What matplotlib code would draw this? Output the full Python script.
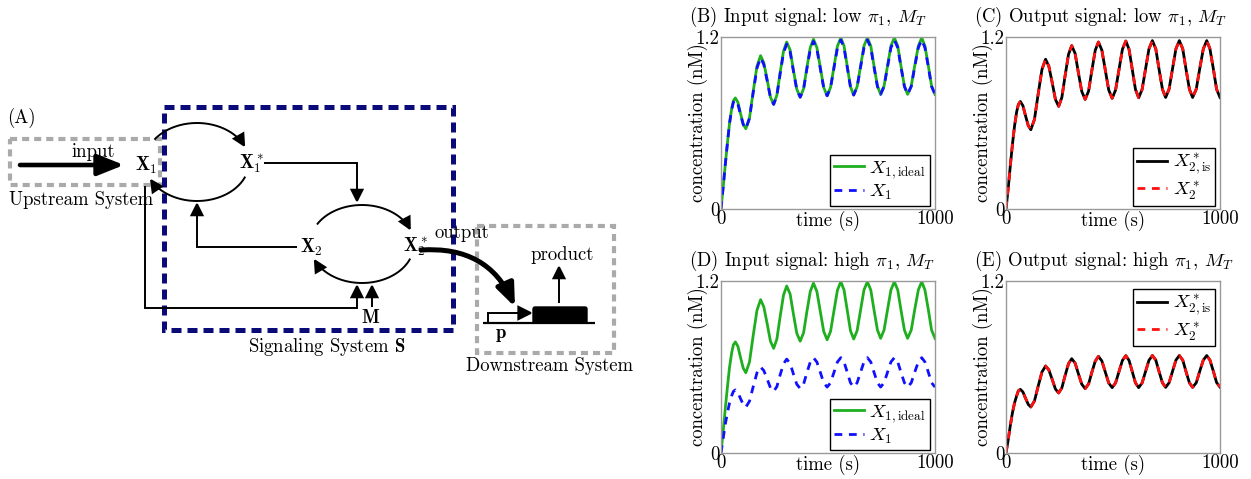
import numpy as np
import matplotlib
matplotlib.use("Agg")
import matplotlib.pyplot as plt
from matplotlib.patches import Rectangle, FancyArrowPatch, FancyBboxPatch
from matplotlib.path import Path

plt.rcParams["font.family"] = "cmr10"
plt.rcParams["mathtext.fontset"] = "cm"
plt.rcParams["axes.unicode_minus"] = False
plt.rcParams["axes.formatter.use_mathtext"] = True

# =========================
# DATA
# =========================

t = [0, 10, 20, 30, 40, 50, 58, 67,
     79, 91, 104, 116, 133, 150, 168, 185,
     200, 216, 231, 246, 261, 276, 292, 307,
     323, 338, 354, 370, 386, 401, 417, 432,
     448, 464, 480, 496, 512, 528, 544, 560,
     575, 590, 605, 620, 636, 652, 668, 684,
     700, 715, 731, 746, 762, 778, 794, 810,
     826, 841, 857, 872, 889, 905, 922, 938,
     953, 969, 984, 1000]

# X1,ideal (same in B and D)
x1_ideal = [0, .15, .31, .46, .60, .70, .755, .775,
            .744, .668, .591, .56, .634, .815, .995, 1.07,
            1.02, .90, .78, .73, .794, .948, 1.101, 1.165,
            1.109, .973, .836, .78, .839, .983, 1.126, 1.185,
            1.127, .988, .848, .79, .849, .993, 1.136, 1.195,
            1.137, .995, .853, .795, .853, .995, 1.137, 1.195,
            1.137, .998, .858, .80, .858, .998, 1.137, 1.195,
            1.137, .998, .858, .80, .858, .998, 1.137, 1.195,
            1.137, .998, .858, .80]

# X1, low pi1 / MT
x1_low = [0, .15, .31, .46, .60, .695, .745, .76,
          .731, .66, .589, .56, .632, .808, .983, 1.055,
          1.008, .893, .778, .73, .791, .94, 1.089, 1.15,
          1.096, .965, .834, .78, .837, .975, 1.113, 1.17,
          1.115, .98, .845, .79, .847, .985, 1.123, 1.18,
          1.124, .988, .851, .795, .851, .988, 1.124, 1.18,
          1.125, .99, .855, .80, .855, .99, 1.125, 1.18,
          1.125, .99, .855, .80, .855, .99, 1.125, 1.18,
          1.125, .99, .855, .80]

# X2*,is and X2*, low pi1 / MT (curves coincide)
x2is_low = [0, .14, .30, .45, .58, .68, .73, .75,
            .721, .652, .582, .553, .625, .799, .973, 1.045,
            .997, .881, .764, .716, .778, .928, 1.078, 1.14,
            1.085, .953, .82, .765, .823, .965, 1.107, 1.165,
            1.108, .969, .83, .772, .830, .972, 1.114, 1.172,
            1.114, .974, .834, .776, .834, .976, 1.117, 1.175,
            1.117, .977, .836, .778, .836, .977, 1.117, 1.175,
            1.117, .977, .836, .778, .836, .977, 1.117, 1.175,
            1.117, .977, .836, .778]
x2_low = list(x2is_low)

# X1, high pi1 / MT
x1_high = [0, .10, .20, .28, .35, .40, .43, .44,
           .422, .38, .338, .32, .361, .46, .559, .60,
           .575, .515, .455, .43, .463, .543, .622, .655,
           .625, .553, .48, .45, .481, .558, .634, .665,
           .635, .563, .49, .46, .49, .563, .635, .665,
           .635, .563, .49, .46, .49, .563, .635, .665,
           .635, .563, .49, .46, .49, .563, .635, .665,
           .635, .563, .49, .46, .49, .563, .635, .665,
           .635, .563, .49, .46]

# X2*,is and X2*, high pi1 / MT
x2is_high = [0, .09, .19, .28, .35, .40, .435, .444,
             .426, .383, .339, .321, .363, .464, .565, .607,
             .58, .513, .446, .419, .454, .539, .623, .658,
             .627, .554, .48, .449, .482, .562, .641, .674,
             .642, .565, .488, .456, .489, .568, .646, .679,
             .646, .568, .489, .456, .489, .568, .647, .68,
             .648, .569, .49, .458, .49, .569, .648, .68,
             .648, .569, .49, .458, .49, .569, .648, .68,
             .648, .57, .492, .46]
x2_high = list(x2is_high)

titles = [r"(B) Input signal: low $\pi_1$, $M_T$",
          r"(C) Output signal: low $\pi_1$, $M_T$",
          r"(D) Input signal: high $\pi_1$, $M_T$",
          r"(E) Output signal: high $\pi_1$, $M_T$"]

GREEN = "#1fae1f"
BLUE = "#1010ff"
RED = "#ff1010"
FS = 13.5

W, H = 1251, 479
fig = plt.figure(figsize=(W / 100, H / 100), dpi=100)

# =========================
# (A) SCHEMATIC
# =========================
axd = fig.add_axes([0, 0, 1, 1], zorder=0)
axd.set_xlim(0, W)
axd.set_ylim(H, 0)
axd.axis("off")

GRAY = "#aaaaaa"
NAVY = "#0a0a78"

def arc(cx, cy, rx, ry, a1, a2, n=40):
    th = np.radians(np.linspace(a1, a2, n))
    return np.column_stack([cx + rx * np.cos(th), cy - ry * np.sin(th)])

def arrow_path(pts, lw=1.4, ms=16, style="-|>,head_length=0.5,head_width=0.25"):
    p = FancyArrowPatch(path=Path(np.asarray(pts, float)), arrowstyle=style,
                        mutation_scale=ms, lw=lw, color="black",
                        shrinkA=0, shrinkB=0, joinstyle="miter", capstyle="butt")
    axd.add_patch(p)

# boxes
axd.add_patch(Rectangle((10, 139), 150, 46, fill=False, ec=GRAY, lw=3.0,
                        ls=(0, (1.7, 1.2))))
axd.add_patch(Rectangle((477, 226), 137, 127, fill=False, ec=GRAY, lw=3.0,
                        ls=(0, (1.7, 1.2))))
axd.add_patch(Rectangle((164, 107), 289, 223, fill=False, ec=NAVY, lw=3.6,
                        ls=(0, (2.0, 1.2))))

# cycles
arrow_path(arc(197, 162, 52, 39, 145, 22))
arrow_path(arc(197, 162, 52, 39, -22, -155))
arrow_path(arc(362, 244, 52, 39, 150, 20))
arrow_path(arc(362, 244, 52, 39, -22, -158))

# connecting arrows
arrow_path([(264, 163), (357, 163), (357, 203)])
arrow_path([(297, 247), (197, 247), (197, 202)])
arrow_path([(145, 186), (145, 308), (357, 308), (357, 284)])
arrow_path([(372, 307), (372, 284)])

# thick input / output arrows
axd.add_patch(FancyArrowPatch((20, 165), (124, 165),
                              arrowstyle="-|>,head_length=0.8,head_width=0.32",
                              mutation_scale=20, lw=3.3, color="black",
                              shrinkA=0, shrinkB=0))
axd.add_patch(FancyArrowPatch((421, 250), (515, 307),
                              connectionstyle="arc3,rad=-0.35",
                              arrowstyle="-|>,head_length=0.75,head_width=0.3",
                              mutation_scale=18, lw=3.6, color="black",
                              shrinkA=0, shrinkB=0))

# downstream gene
axd.plot([483, 595], [323, 323], color="black", lw=1.6, solid_capstyle="butt")
arrow_path([(488, 323), (488, 313), (533, 313)], lw=1.4, ms=18)
axd.add_patch(FancyBboxPatch((533, 307), 54, 16, boxstyle="round,pad=0,rounding_size=2",
                             fc="black", ec="black"))
arrow_path([(559, 303), (559, 265)])

# labels
axd.text(7, 118, "(A)", fontsize=FS, ha="left", va="center")
axd.text(93, 152, "input", fontsize=FS, ha="center", va="center")
axd.text(81, 200, "Upstream System", fontsize=FS, ha="center", va="center")
axd.text(146, 165, r"$\mathbf{X}_1$", fontsize=FS, ha="center", va="center")
axd.text(251, 164, r"$\mathbf{X}_1^*$", fontsize=FS, ha="center", va="center")
axd.text(311, 247, r"$\mathbf{X}_2$", fontsize=FS, ha="center", va="center")
axd.text(415, 247, r"$\mathbf{X}_2^*$", fontsize=FS, ha="center", va="center")
axd.text(371, 318, r"$\mathbf{M}$", fontsize=FS, ha="center", va="center")
axd.text(327, 347, r"Signaling System $\mathbf{S}$", fontsize=FS, ha="center", va="center")
axd.text(462, 233, "output", fontsize=FS, ha="center", va="center")
axd.text(562, 255, "product", fontsize=FS, ha="center", va="center")
axd.text(501, 335, r"$\mathbf{p}$", fontsize=FS, ha="center", va="center")
axd.text(549, 366, "Downstream System", fontsize=FS, ha="center", va="center")

# =========================
# (B)-(E) TIME COURSES
# =========================
lefts = [721, 1006]
tops = [37, 281]
aw, ah = 214, 172

panels = [
    (0, 0, x1_ideal, x1_low, GREEN, BLUE,
     r"$X_{1,\mathrm{ideal}}$", r"$X_1$", "lower right"),
    (1, 0, x2is_low, x2_low, "black", RED,
     r"$X^*_{2,\mathrm{is}}$", r"$X^*_2$", "lower right"),
    (0, 1, x1_ideal, x1_high, GREEN, BLUE,
     r"$X_{1,\mathrm{ideal}}$", r"$X_1$", "lower right"),
    (1, 1, x2is_high, x2_high, "black", RED,
     r"$X^*_{2,\mathrm{is}}$", r"$X^*_2$", "upper right"),
]

for k, (c, r, ya, yb, ca, cb, la, lb, loc) in enumerate(panels):
    ax = fig.add_axes([lefts[c] / W, (H - tops[r] - ah) / H, aw / W, ah / H], zorder=2)
    ax.plot(t, ya, color=ca, lw=2.0, label=la)
    ax.plot(t, yb, color=cb, lw=2.0, ls=(0, (2.8, 2.4)), label=lb)
    ax.set_xlim(0, 1000)
    ax.set_ylim(0, 1.2)
    ax.set_xticks([0, 1000])
    ax.set_xticklabels(["0", "1000"])
    ax.set_yticks([0, 1.2])
    ax.set_yticklabels(["0", "1.2"])
    ax.tick_params(length=0, labelsize=FS, pad=1)
    for s in ax.spines.values():
        s.set_color("#999999")
        s.set_linewidth(1.0)
    ax.set_xlabel("time (s)", fontsize=FS)
    ax.xaxis.set_label_coords(0.5, -0.01)
    ax.set_ylabel("concentration (nM)", fontsize=FS)
    ax.yaxis.set_label_coords(-0.06, 0.5)
    ax.text(-0.15, 1.115, titles[k], transform=ax.transAxes, fontsize=FS,
            ha="left", va="center")
    if loc == "lower right":
        anchor = (0.975, 0.02)
    else:
        anchor = (0.975, 0.955)
    leg = ax.legend(loc=loc, bbox_to_anchor=anchor, borderaxespad=0,
                    fontsize=FS, handlelength=1.6, handletextpad=0.3,
                    labelspacing=0.1, borderpad=0.2, fancybox=False,
                    framealpha=1)
    leg.get_frame().set_edgecolor("black")
    leg.get_frame().set_linewidth(1.0)

fig.savefig("out.png", dpi=100)
